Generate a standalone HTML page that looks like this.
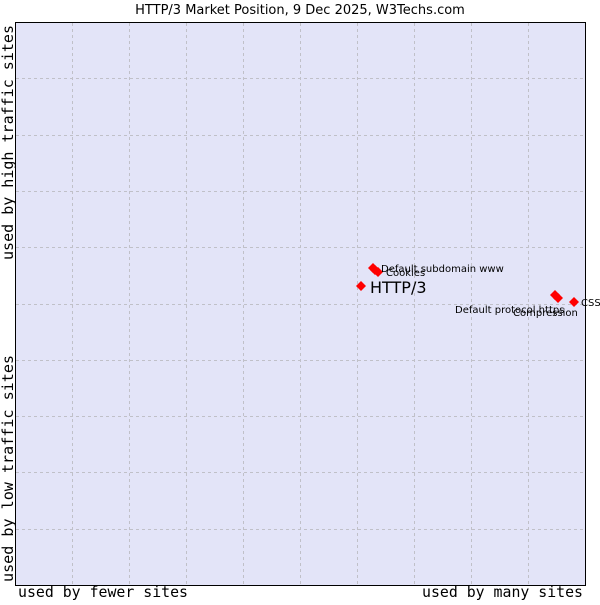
<!DOCTYPE html>
<html><head><style>body{margin:0;background:#fff}</style></head><body>
<svg width="600" height="600" xmlns="http://www.w3.org/2000/svg" font-family="DejaVu Sans, sans-serif">
<rect x="0" y="0" width="600" height="600" fill="#fff"/>
<text x="300" y="14" font-size="13" text-anchor="middle" fill="#000">HTTP/3 Market Position, 9 Dec 2025, W3Techs.com</text>
<rect x="15.5" y="22.5" width="570" height="563" fill="#e3e4f8" stroke="#000" stroke-width="1"/>
<g stroke="#c0c0c8" stroke-dasharray="3,3" stroke-width="1">
<line x1="72.5" y1="23" x2="72.5" y2="585"/><line x1="129.5" y1="23" x2="129.5" y2="585"/><line x1="186.5" y1="23" x2="186.5" y2="585"/><line x1="243.5" y1="23" x2="243.5" y2="585"/><line x1="300.5" y1="23" x2="300.5" y2="585"/><line x1="357.5" y1="23" x2="357.5" y2="585"/><line x1="414.5" y1="23" x2="414.5" y2="585"/><line x1="471.5" y1="23" x2="471.5" y2="585"/><line x1="528.5" y1="23" x2="528.5" y2="585"/>
<line x1="16" y1="78.5" x2="585" y2="78.5"/><line x1="16" y1="135.5" x2="585" y2="135.5"/><line x1="16" y1="191.5" x2="585" y2="191.5"/><line x1="16" y1="247.5" x2="585" y2="247.5"/><line x1="16" y1="304.5" x2="585" y2="304.5"/><line x1="16" y1="360.5" x2="585" y2="360.5"/><line x1="16" y1="416.5" x2="585" y2="416.5"/><line x1="16" y1="472.5" x2="585" y2="472.5"/><line x1="16" y1="529.5" x2="585" y2="529.5"/>
</g>
<g fill="#f00">
<path d="M361 281l5 5-5 5-5-5z"/>
<path d="M373 263l5 5-5 5-5-5z"/><path d="M375 265l5 5-5 5-5-5z"/><path d="M378 267l5 5-5 5-5-5z"/>
<path d="M555 290l5 5-5 5-5-5z"/><path d="M558 293l5 5-5 5-5-5z"/>
<path d="M574 297l5 5-5 5-5-5z"/>
</g>
<g font-size="10" fill="#000">
<text x="381" y="272">Default subdomain www</text>
<text x="386" y="276">Cookies</text>
<text x="455" y="313">Default protocol https</text>
<text x="513" y="316">Compression</text>
<text x="581" y="306">CSS</text>
</g>
<text x="370" y="293" font-size="16" fill="#000">HTTP/3</text>
<g font-family="DejaVu Sans Mono, Liberation Mono, monospace" font-size="15" fill="#000">
<text x="18" y="597" textLength="170" lengthAdjust="spacingAndGlyphs">used by fewer sites</text>
<text x="422" y="597" textLength="161" lengthAdjust="spacingAndGlyphs">used by many sites</text>
<text transform="translate(13,582) rotate(-90)" textLength="227" lengthAdjust="spacingAndGlyphs">used by low traffic sites</text>
<text transform="translate(13,260) rotate(-90)" textLength="235" lengthAdjust="spacingAndGlyphs">used by high traffic sites</text>
</g>
</svg>
</body></html>
